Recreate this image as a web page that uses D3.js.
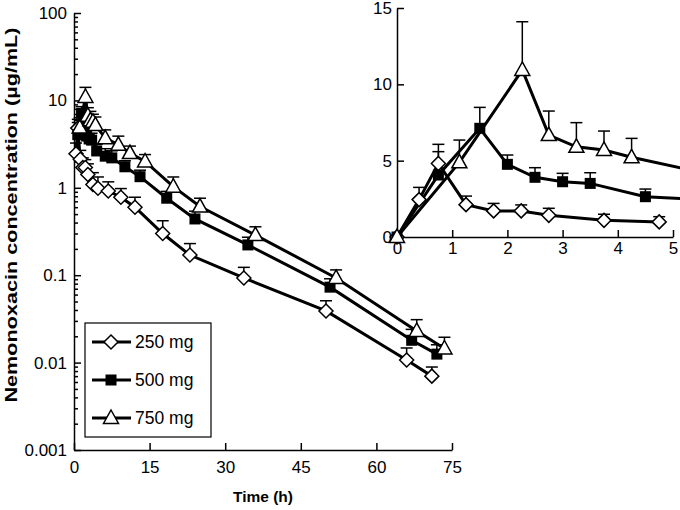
<!DOCTYPE html>
<html><head><meta charset="utf-8">
<script src="https://cdn.jsdelivr.net/npm/d3@7"></script>
<style>body{margin:0;background:#fff}svg{display:block}</style>
</head><body><svg id="c" width="680" height="510"></svg>
<script>
// ---- data ----
const seriesNames = ["250 mg", "500 mg", "750 mg"];
const xTicksMain = [0, 15, 30, 45, 60, 75];
const yTicksMain = [0.001, 0.01, 0.1, 1, 10, 100];
const xTicksInset = [0, 1, 2, 3, 4, 5];
const yTicksInset = [0, 5, 10, 15];

// time (h), mean concentration (ug/mL), SD (upper error bar)
const t250 = [0, 0.4, 0.75, 1.25, 1.75, 2.25, 2.75, 3.75, 4.75, 6.8, 9.3, 12.1, 17.6, 23, 33.7, 50, 66, 71];
const c250 = [0, 2.45, 4.82, 2.12, 1.71, 1.71, 1.42, 1.09, 0.99, 0.92, 0.78, 0.60, 0.30, 0.17, 0.093, 0.039, 0.0107, 0.0070];
const e250 = [0, 0.8, 1.25, 0.56, 0.49, 0.39, 0.46, 0.40, 0.34, 0.25, 0.2, 0.18, 0.12, 0.06, 0.03, 0.012, 0.004, 0.0019];

const t500 = [0, 0.75, 1.5, 2.0, 2.5, 3.0, 3.5, 4.5, 6.2, 7.5, 10.1, 13.1, 18.4, 24, 34.5, 50.8, 67, 72];
const c500 = [0, 4.06, 7.12, 4.76, 3.91, 3.62, 3.51, 2.64, 2.3, 2.2, 1.74, 1.34, 0.76, 0.44, 0.222, 0.073, 0.018, 0.0125];
const e500 = [0, 1.53, 1.37, 0.61, 0.63, 0.55, 0.70, 0.50, 0.5, 0.45, 0.3, 0.25, 0.15, 0.1, 0.05, 0.018, 0.006, 0.0035];

const t750 = [0, 1.13, 2.27, 2.75, 3.25, 3.75, 4.25, 6.2, 8.8, 11.1, 14.1, 19.7, 25, 36, 52, 68, 73.5];
const c750 = [0, 4.89, 10.94, 6.68, 5.91, 5.70, 5.22, 3.7, 3.1, 2.5, 2.0, 1.03, 0.61, 0.288, 0.093, 0.023, 0.0145];
const e750 = [0, 1.46, 3.16, 1.57, 1.58, 1.24, 1.24, 0.9, 0.8, 0.5, 0.4, 0.3, 0.15, 0.07, 0.022, 0.008, 0.005];

const svg = d3.select("#c");
const FONT = "Liberation Sans, Arial, sans-serif";

// ---- main plot ----
const M = {l: 74, r: 452, t: 13, b: 450};
const x = d3.scaleLinear().domain([0, 75]).range([M.l, M.r]);
const y = d3.scaleLog().domain([0.001, 100]).range([M.b, M.t]);

const g = svg.append("g");
const gx = g.append("g").attr("transform", `translate(0,${M.b})`)
  .call(d3.axisBottom(x).tickValues(xTicksMain).tickFormat(d3.format("d")).tickSize(-7).tickSizeOuter(0).tickPadding(11));
const minor = [];
for (let e = -3; e < 2; e++) for (let k = 2; k <= 9; k++) minor.push(k * Math.pow(10, e));
const gy = g.append("g").attr("transform", `translate(${M.l},0)`)
  .call(d3.axisLeft(y).tickValues(yTicksMain).tickFormat(d => String(d)).tickSize(-7).tickSizeOuter(0).tickPadding(7));
g.append("g").attr("transform", `translate(${M.l},0)`)
  .call(d3.axisLeft(y).tickValues(minor).tickFormat("").tickSize(-4).tickSizeOuter(0))
  .select(".domain").remove();
[gx, gy].forEach(a => { a.selectAll("text").attr("font-family", FONT).attr("font-size", 17).attr("fill", "#000"); });
g.selectAll(".domain, .tick line").attr("stroke", "#000").attr("stroke-width", 1.5);

svg.append("text").attr("x", (M.l + M.r) / 2).attr("y", 502).attr("text-anchor", "middle")
  .attr("font-family", FONT).attr("font-weight", "bold").attr("font-size", 15.5).text("Time (h)");
svg.append("text").attr("transform", `translate(17,215) rotate(-90)`).attr("text-anchor", "middle")
  .attr("font-family", FONT).attr("font-weight", "bold").attr("font-size", 17)
  .attr("textLength", 375).attr("lengthAdjust", "spacingAndGlyphs")
  .text("Nemonoxacin concentration (µg/mL)");

const series = [
  {t: t250, c: c250, e: e250, sym: "diamond"},
  {t: t500, c: c500, e: e500, sym: "square"},
  {t: t750, c: c750, e: e750, sym: "triangle"}
];

function marker(sel, sym, cx, cy) {
  if (sym === "diamond") {
    sel.append("path").attr("d", `M${cx},${cy - 7}L${cx + 7},${cy}L${cx},${cy + 7}L${cx - 7},${cy}Z`)
      .attr("fill", "#fff").attr("stroke", "#000").attr("stroke-width", 1.5);
  } else if (sym === "square") {
    sel.append("rect").attr("x", cx - 5.5).attr("y", cy - 5.5).attr("width", 11).attr("height", 11).attr("fill", "#000");
  } else {
    sel.append("path").attr("d", `M${cx},${cy - 8}L${cx + 7.5},${cy + 5.5}L${cx - 7.5},${cy + 5.5}Z`)
      .attr("fill", "#fff").attr("stroke", "#000").attr("stroke-width", 1.5);
  }
}

function drawSeries(gg, sx, sy, filter) {
  series.forEach(s => {
    const pts = s.t.map((t, i) => ({t, c: s.c[i], e: s.e[i]})).filter(filter);
    gg.append("path").datum(pts)
      .attr("d", d3.line().x(d => sx(d.t)).y(d => sy(d.c)))
      .attr("fill", "none").attr("stroke", "#000").attr("stroke-width", 3);
    pts.forEach(d => {
      const x0 = sx(d.t), y0 = sy(d.c), y1 = sy(d.c + d.e);
      if (d.e > 0) {
        gg.append("line").attr("x1", x0).attr("x2", x0).attr("y1", y0).attr("y2", y1).attr("stroke", "#000").attr("stroke-width", 1.5);
        gg.append("line").attr("x1", x0 - 6).attr("x2", x0 + 6).attr("y1", y1).attr("y2", y1).attr("stroke", "#000").attr("stroke-width", 1.5);
      }
    });
  });
  series.forEach(s => {
    const pts = s.t.map((t, i) => ({t, c: s.c[i]})).filter(filter);
    pts.forEach(d => marker(gg, s.sym, sx(d.t), sy(d.c)));
  });
}
drawSeries(svg.append("g"), x, y, d => d.c > 0);

// legend
const lg = svg.append("g");
lg.append("rect").attr("x", 85).attr("y", 323).attr("width", 126).attr("height", 114)
  .attr("fill", "#fff").attr("stroke", "#000").attr("stroke-width", 1.2);
seriesNames.forEach((n, i) => {
  const yy = 342 + i * 38;
  lg.append("line").attr("x1", 92).attr("x2", 131).attr("y1", yy).attr("y2", yy).attr("stroke", "#000").attr("stroke-width", 3);
  marker(lg, series[i].sym, 111, yy);
  lg.append("text").attr("x", 135).attr("y", yy + 6).attr("font-family", FONT).attr("font-size", 17.5).text(n);
});

// ---- inset ----
const I = {l: 397, r: 673, t: 8, b: 237};
const xi = d3.scaleLinear().domain([0, 5]).range([I.l, I.r]);
const yi = d3.scaleLinear().domain([0, 15]).range([I.b, I.t]);
svg.append("defs").append("clipPath").attr("id", "ic").append("rect")
  .attr("x", I.l - 12).attr("y", 0).attr("width", 680 - I.l + 12).attr("height", I.b + 12);
const gi = svg.append("g");
const gix = gi.append("g").attr("transform", `translate(0,${I.b})`)
  .call(d3.axisBottom(xi).tickValues(xTicksInset).tickFormat(d3.format("d")).tickSize(-7).tickSizeOuter(0).tickPadding(5));
const giy = gi.append("g").attr("transform", `translate(${I.l},0)`)
  .call(d3.axisLeft(yi).tickValues(yTicksInset).tickFormat(d3.format("d")).tickSize(-7).tickSizeOuter(0).tickPadding(5));
[gix, giy].forEach(a => a.selectAll("text").attr("font-family", FONT).attr("font-size", 17).attr("fill", "#000"));
gi.selectAll(".domain, .tick line").attr("stroke", "#000").attr("stroke-width", 1.5);
drawSeries(svg.append("g").attr("clip-path", "url(#ic)"), xi, yi, d => d.t <= 6.5);
</script></body></html>
